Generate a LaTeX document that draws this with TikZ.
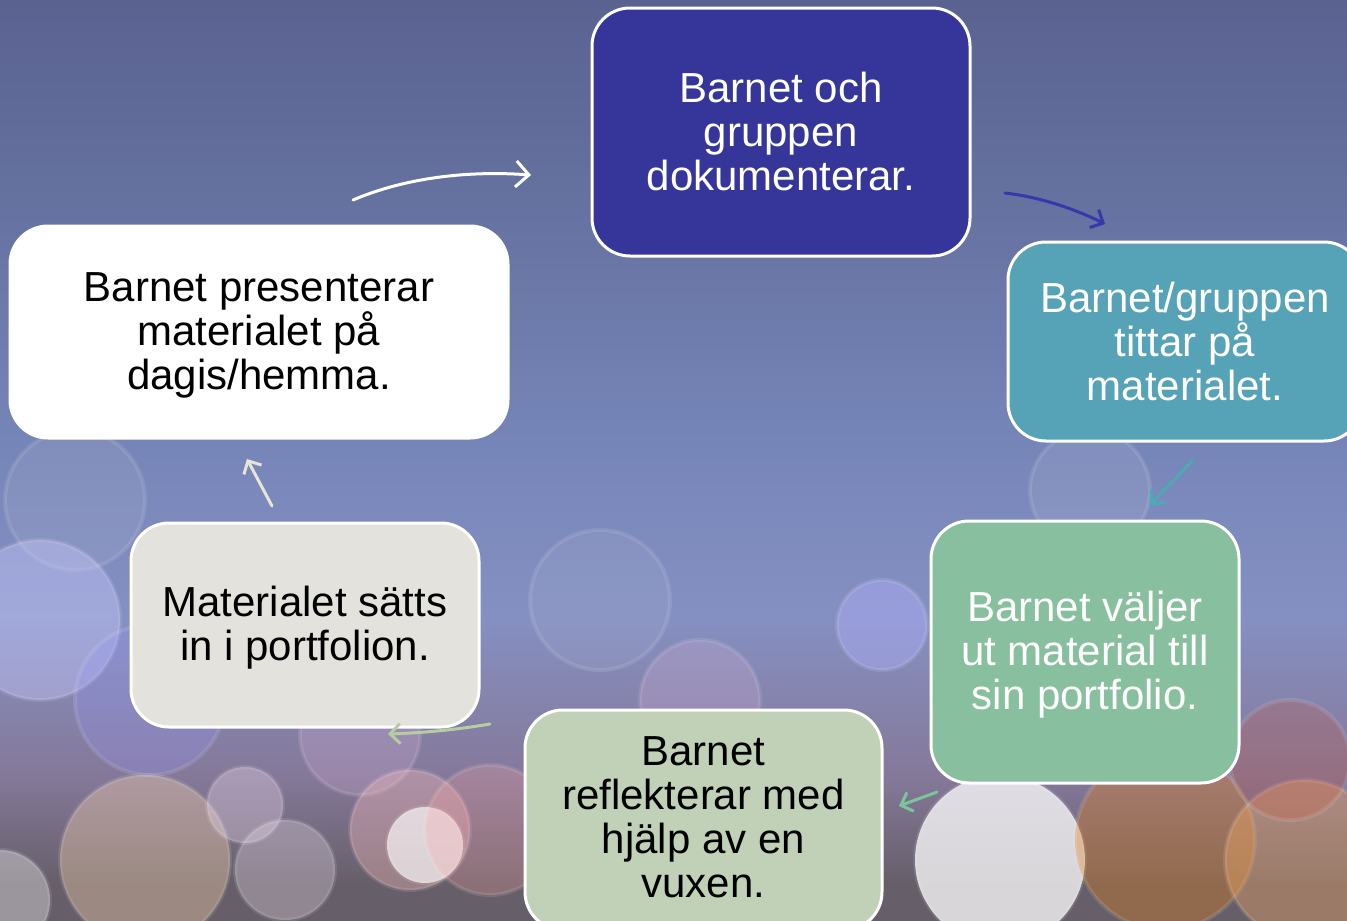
\documentclass[tikz,border=0pt]{standalone}
\usepackage{fontspec}
\setmainfont{Liberation Sans}
\usetikzlibrary{arrows.meta}
\definecolor{bgA}{HTML}{5A6290}
\definecolor{bgB}{HTML}{64709E}
\definecolor{bgC}{HTML}{7685B8}
\definecolor{bgD}{HTML}{8590C2}
\definecolor{bgE}{HTML}{85799A}
\definecolor{bgF}{HTML}{665F69}
\definecolor{cOne}{HTML}{35359A}
\definecolor{cTwo}{HTML}{56A2B6}
\definecolor{cThree}{HTML}{88BF9E}
\definecolor{cFour}{HTML}{C0D1B7}
\definecolor{cFive}{HTML}{E3E2DD}
\definecolor{aTwo}{HTML}{3838AA}
\definecolor{aThree}{HTML}{4AABB2}
\definecolor{aFour}{HTML}{7CC49B}
\definecolor{aFive}{HTML}{B6CDA2}
\definecolor{aSix}{HTML}{E8E4D8}
\pgfdeclareverticalshading{bgshade}{100bp}{color(0bp)=(bgF); color(27bp)=(bgF); color(33bp)=(bgE); color(41.5bp)=(bgD); color(51bp)=(bgC); color(65bp)=(bgB); color(75bp)=(bgA); color(100bp)=(bgA)}
\tikzset{
  stepbox/.style={draw=white, line width=3pt, rounded corners=38pt, align=center,
    font=\fontsize{42}{44}\selectfont, inner sep=0pt},
  steptext/.style={align=center, font=\fontsize{42}{44}\selectfont, inner sep=0pt},
  conn/.style={line width=3pt, line cap=round, -{Straight Barb[length=13pt,width=26pt,line width=3pt]}},
  connsmall/.style={line width=3pt, line cap=round, -{Straight Barb[length=10pt,width=20pt,line width=3pt]}},
  bokeh/.style={fill=#1, draw=white, draw opacity=0.10, line width=4pt}
}
\begin{document}
\begin{tikzpicture}[x=1pt,y=-1pt]
\useasboundingbox (0,0) rectangle (1347,921);
\fill[shading=bgshade] (0,0) rectangle (1347,921);
% bokeh
\begin{scope}
\fill[bokeh=bgB!40!white, fill opacity=0.15] (75,500) circle (70);
\fill[bokeh=bgC!50!white, fill opacity=0.18] (1090,490) circle (60);
\fill[bokeh=bgC!60!white, fill opacity=0.18] (600,600) circle (70);
\fill[bokeh=blue!20!white, fill opacity=0.40] (40,620) circle (80);
\fill[bokeh=blue!40!white, fill opacity=0.25] (150,700) circle (75);
\fill[bokeh=violet!30!white, fill opacity=0.25] (360,735) circle (60);
\fill[bokeh=blue!30!white, fill opacity=0.40] (882,625) circle (45);
\fill[bokeh=violet!30!white, fill opacity=0.25] (700,700) circle (60);
\fill[bokeh=orange!30!white, fill opacity=0.35] (145,860) circle (85);
\fill[bokeh=violet!15!white, fill opacity=0.35] (245,805) circle (38);
\fill[bokeh=violet!10!white, fill opacity=0.30] (285,870) circle (50);
\fill[bokeh=red!25!white, fill opacity=0.35] (410,830) circle (60);
\fill[bokeh=white, fill opacity=0.65] (425,845) circle (38);
\fill[bokeh=red!35!white, fill opacity=0.25] (490,830) circle (65);
\fill[bokeh=white, fill opacity=0.75] (1000,860) circle (85);
\fill[bokeh=orange!55!brown, fill opacity=0.35] (1165,840) circle (90);
\fill[bokeh=orange!60!white, fill opacity=0.35] (1305,860) circle (80);
\fill[bokeh=red!40!brown, fill opacity=0.20] (1290,760) circle (60);
\fill[bokeh=white, fill opacity=0.35] (0,900) circle (50);
\end{scope}
% boxes
\node[stepbox, fill=cOne, minimum width=378pt, minimum height=248pt] (b1) at (781,132) {};
\node[steptext, text=white] (t1) at (781,131) {Barnet och\\gruppen\\dokumenterar.};
\node[stepbox, fill=cTwo, minimum width=354pt, minimum height=199pt] (b2) at (1185,341.5) {};
\node[steptext, text=white] (t2) at (1185,341) {Barnet/gruppen\\tittar på\\materialet.};
\node[stepbox, fill=cThree, minimum width=308pt, minimum height=262pt] (b3) at (1085,652) {};
\node[steptext, text=white] (t3) at (1085,655) {Barnet väljer\\ut material till\\sin portfolio.};
\node[stepbox, fill=cFour, minimum width=357pt, minimum height=220pt] (b4) at (703.5,820) {};
\node[steptext, text=black] (t4) at (703.5,817) {Barnet\\reflekterar med\\hjälp av en\\vuxen.};
\node[stepbox, fill=cFive, minimum width=348pt, minimum height=204pt] (b5) at (305,625) {};
\node[steptext, text=black] (t5) at (305,628) {Materialet sätts\\in i portfolion.};
\node[stepbox, fill=white, minimum width=498pt, minimum height=212pt] (b6) at (259,332) {};
\node[steptext, text=black] (t6) at (259,335) {Barnet presenterar\\materialet på\\dagis/hemma.};
% connector coordinates
\coordinate (s1) at (353,200); \coordinate (e1) at (531,175);
\coordinate (s2) at (1005,193); \coordinate (e2) at (1105,224);
\coordinate (s3) at (1192,461); \coordinate (e3) at (1150,505);
\coordinate (s4) at (937,792); \coordinate (e4) at (899,806);
\coordinate (s5) at (490,724); \coordinate (e5) at (388,734);
\coordinate (s6) at (272,506); \coordinate (e6) at (247,459);
\draw[conn, white] (s1) .. controls (400,180) and (460,170) .. (e1);
\draw[connsmall, aTwo] (s2) .. controls (1040,197) and (1075,209) .. (e2);
\draw[connsmall, aThree] (s3) -- (e3);
\draw[connsmall, aFour] (s4) -- (e4);
\draw[connsmall, aFive] (s5) .. controls (455,730) and (420,733) .. (e5);
\draw[connsmall, aSix] (s6) -- (e6);
\end{tikzpicture}
\end{document}
